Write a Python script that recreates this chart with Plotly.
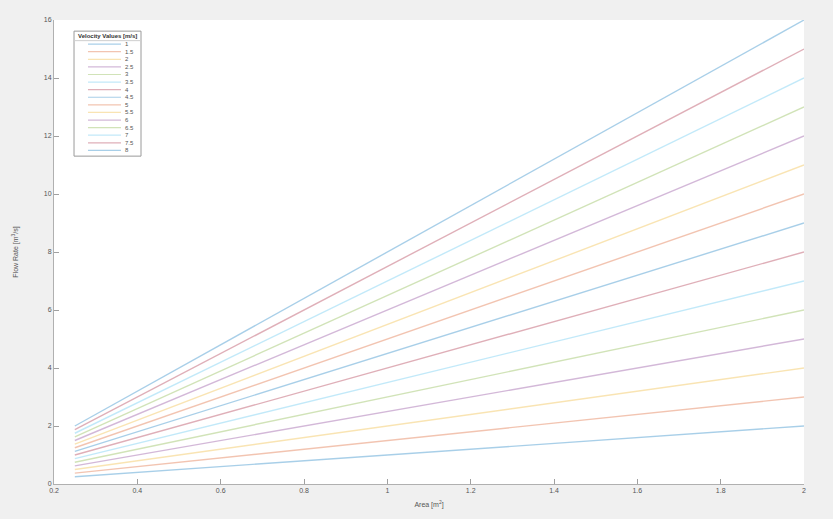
import plotly.graph_objects as go

# Cross-section area range (m^2)
area = [0.25, 2.0]

# Flow velocities (m/s), one line each
velocities = ["1", "1.5", "2", "2.5", "3", "3.5", "4", "4.5", "5", "5.5", "6", "6.5", "7", "7.5", "8"]

# Flow rate (m^3/s) at the smallest and largest area for each velocity
flow_at_min_area = [0.25, 0.375, 0.5, 0.625, 0.75, 0.875, 1.0, 1.125, 1.25, 1.375, 1.5, 1.625, 1.75, 1.875, 2.0]
flow_at_max_area = [2, 3, 4, 5, 6, 7, 8, 9, 10, 11, 12, 13, 14, 15, 16]

# Default line colour order, drawn faded
palette = ["#0072BD", "#D95319", "#EDB120", "#7E2F8E", "#77AC30", "#4DBEEE", "#A2142F"]
line_opacity = 0.34

x_ticks = [0.2, 0.4, 0.6, 0.8, 1, 1.2, 1.4, 1.6, 1.8, 2]
x_tick_text = ["0.2", "0.4", "0.6", "0.8", "1", "1.2", "1.4", "1.6", "1.8", "2"]
y_ticks = [0, 2, 4, 6, 8, 10, 12, 14, 16]

FONT = "Liberation Sans, Arial, sans-serif"


def faded(hex_color, alpha):
    r, g, b = int(hex_color[1:3], 16), int(hex_color[3:5], 16), int(hex_color[5:7], 16)
    return f"rgba({r},{g},{b},{alpha})"


fig = go.Figure()
for i, v in enumerate(velocities):
    fig.add_trace(go.Scatter(
        x=area,
        y=[flow_at_min_area[i], flow_at_max_area[i]],
        mode="lines",
        name=v,
        showlegend=False,
        line=dict(color=faded(palette[i % len(palette)], line_opacity), width=1.4),
    ))

# Compact legend box drawn in paper coordinates
box_x0, box_x1 = 0.0267, 0.116
box_y1, box_y0 = 0.976, 0.7066
title_y = 0.9645
first_y, step_y = 0.948, 0.01636
sample_x0, sample_x1, label_x = 0.0453, 0.0893, 0.0915

shapes = [dict(type="rect", xref="paper", yref="paper",
               x0=box_x0, x1=box_x1, y0=box_y0, y1=box_y1,
               line=dict(color="#9a9a9a", width=1), fillcolor="#ffffff", layer="above")]
annotations = [dict(text="<b>Velocity Values [m/s]</b>", xref="paper", yref="paper",
                    x=(box_x0 + box_x1) / 2, y=title_y, xanchor="center", yanchor="middle",
                    showarrow=False, font=dict(family=FONT, size=6, color="#333333"))]
shapes.append(dict(type="line", xref="paper", yref="paper",
                   x0=box_x0, x1=box_x1, y0=title_y - 0.009, y1=title_y - 0.009,
                   line=dict(color="#cfcfcf", width=1), layer="above"))
for i, v in enumerate(velocities):
    yy = first_y - i * step_y
    shapes.append(dict(type="line", xref="paper", yref="paper",
                       x0=sample_x0, x1=sample_x1, y0=yy, y1=yy,
                       line=dict(color=faded(palette[i % len(palette)], line_opacity), width=1.2),
                       layer="above"))
    annotations.append(dict(text=v, xref="paper", yref="paper", x=label_x, y=yy,
                            xanchor="left", yanchor="middle", showarrow=False,
                            font=dict(family=FONT, size=6, color="#555555")))

axis_font = dict(family=FONT, size=7, color="#555555")

fig.update_layout(
    width=833, height=519,
    paper_bgcolor="#f0f0f0",
    plot_bgcolor="#ffffff",
    margin=dict(l=54, r=29, t=20, b=32),
    showlegend=False,
    shapes=shapes,
    annotations=annotations,
    xaxis=dict(
        range=[0.2, 2.0], tickvals=x_ticks, ticktext=x_tick_text,
        showgrid=False, zeroline=False,
        showline=True, linecolor="#b0b0b0", linewidth=1,
        ticks="inside", ticklen=5, tickcolor="#a0a0a0",
        tickfont=axis_font,
        title=dict(text="Area [m<sup>2</sup>]", font=dict(family=FONT, size=7, color="#555555"), standoff=8),
    ),
    yaxis=dict(
        range=[0, 16], tickvals=y_ticks,
        showgrid=False, zeroline=False,
        showline=True, linecolor="#b0b0b0", linewidth=1,
        ticks="inside", ticklen=5, tickcolor="#a0a0a0",
        tickfont=axis_font,
        title=dict(text="Flow Rate [m<sup>3</sup>/s]", font=dict(family=FONT, size=7, color="#555555"), standoff=24),
    ),
)

fig.write_html("out.html")
